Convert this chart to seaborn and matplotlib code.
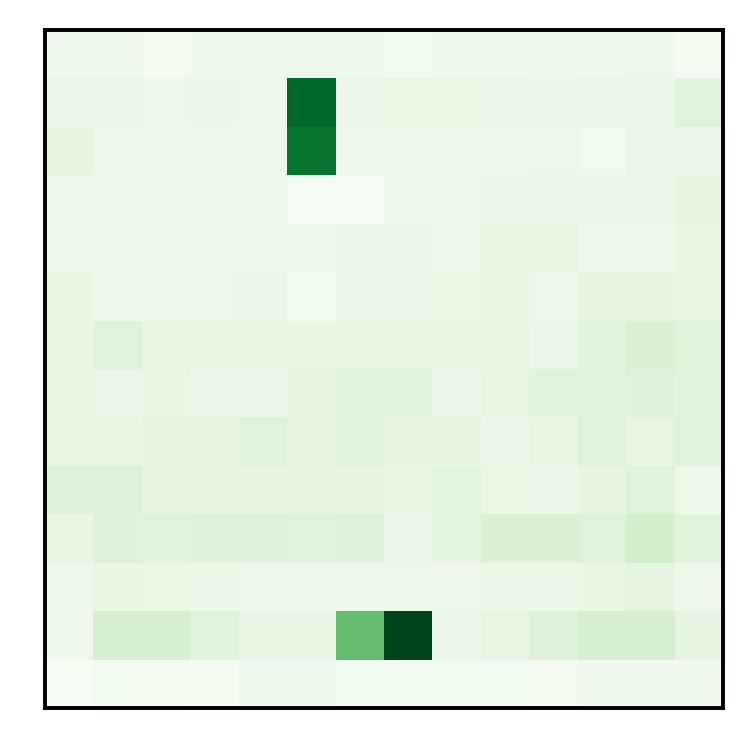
import numpy as np
import matplotlib
matplotlib.use("Agg")
import matplotlib.pyplot as plt
import seaborn as sns

# cell values (Greens scale, 0..1)
row_00 = [0.05, 0.05, 0.03, 0.05, 0.05, 0.06, 0.055, 0.045, 0.055, 0.05, 0.05, 0.055, 0.065, 0.03]
row_01 = [0.09, 0.09, 0.08, 0.085, 0.08, 0.89, 0.09, 0.095, 0.095, 0.09, 0.085, 0.09, 0.085, 0.15]
row_02 = [0.12, 0.075, 0.08, 0.07, 0.07, 0.84, 0.06, 0.05, 0.055, 0.075, 0.075, 0.045, 0.085, 0.085]
row_03 = [0.07, 0.07, 0.065, 0.075, 0.06, 0.02, 0.02, 0.07, 0.07, 0.085, 0.09, 0.09, 0.09, 0.12]
row_04 = [0.07, 0.06, 0.075, 0.075, 0.05, 0.075, 0.09, 0.085, 0.08, 0.115, 0.115, 0.08, 0.08, 0.105]
row_05 = [0.105, 0.075, 0.08, 0.075, 0.09, 0.045, 0.085, 0.09, 0.095, 0.105, 0.075, 0.125, 0.12, 0.115]
row_06 = [0.105, 0.15, 0.115, 0.115, 0.115, 0.105, 0.115, 0.115, 0.115, 0.115, 0.09, 0.145, 0.17, 0.145]
row_07 = [0.105, 0.09, 0.105, 0.085, 0.085, 0.12, 0.15, 0.145, 0.09, 0.115, 0.145, 0.145, 0.16, 0.145]
row_08 = [0.105, 0.105, 0.12, 0.12, 0.15, 0.12, 0.15, 0.12, 0.12, 0.09, 0.115, 0.15, 0.115, 0.15]
row_09 = [0.16, 0.16, 0.12, 0.12, 0.12, 0.12, 0.12, 0.11, 0.14, 0.1, 0.09, 0.12, 0.15, 0.075]
row_10 = [0.105, 0.16, 0.145, 0.16, 0.16, 0.15, 0.16, 0.09, 0.13, 0.17, 0.17, 0.15, 0.2, 0.145]
row_11 = [0.07, 0.105, 0.1, 0.085, 0.065, 0.065, 0.065, 0.065, 0.065, 0.085, 0.085, 0.105, 0.12, 0.07]
row_12 = [0.07, 0.185, 0.185, 0.15, 0.115, 0.115, 0.53, 1.0, 0.09, 0.115, 0.16, 0.19, 0.19, 0.12]
row_13 = [0.01, 0.045, 0.035, 0.03, 0.05, 0.05, 0.04, 0.04, 0.045, 0.045, 0.03, 0.05, 0.05, 0.055]

grid = np.array([row_00, row_01, row_02, row_03, row_04, row_05, row_06,
                 row_07, row_08, row_09, row_10, row_11, row_12, row_13])

fig = plt.figure(figsize=(7.54, 7.54), dpi=100)
ax = fig.add_axes([45 / 754, 46 / 754, 678 / 754, 678 / 754])

sns.heatmap(grid, cmap="Greens", vmin=0, vmax=1, cbar=False,
            xticklabels=False, yticklabels=False, square=False, ax=ax)

# black frame around the grid
for side in ax.spines.values():
    side.set_visible(True)
    side.set_color("black")
    side.set_linewidth(2.8)
ax.tick_params(left=False, bottom=False)

fig.savefig("out.png", dpi=100, facecolor="white")
